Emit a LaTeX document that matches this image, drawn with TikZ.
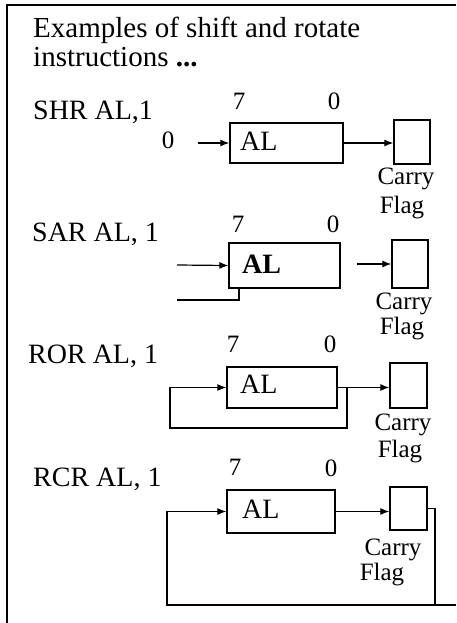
\documentclass[tikz,border=0pt]{standalone}
\usepackage{fontspec}
\setmainfont{Liberation Serif}
\usetikzlibrary{arrows.meta}
\begin{document}
\begin{tikzpicture}[x=1pt,y=-1pt,
  txt/.style={anchor=base west,inner sep=0pt,font=\fontsize{28}{32}\selectfont},
  ttl/.style={anchor=base west,inner sep=0pt,font=\fontsize{29}{33}\selectfont},
  lbl/.style={anchor=base,inner sep=0pt,font=\fontsize{25}{30}\selectfont},
  regbox/.style={draw,line width=1.3pt,inner sep=0pt},
  flow/.style={line width=1.2pt,-{Latex[length=9pt,width=7pt]}},
  wire/.style={line width=1.2pt},
  frameline/.style={line width=2pt}]
\useasboundingbox (0,0) rectangle (456,623);
% frame
\coordinate (ftl) at (7,5);
\coordinate (ftr) at (456,5);
\coordinate (fbl) at (7,623);
\draw[frameline] (ftr) -- (ftl) -- (fbl);
% title
\node[ttl] (t1) at (33,38) {Examples of shift and rotate};
\node[ttl] (t2) at (33,67) {instructions \textbf{...}};

% ---------- SHR ----------
\node[txt] (shrlab) at (33,119) {SHR AL,1};
\node[lbl] (shr7) at (239,110) {7};
\node[lbl] (shr0) at (334,110) {0};
\node[lbl] (shrzero) at (168,148) {0};
\node[regbox,minimum width=113pt,minimum height=40pt] (shrbox) at (286.5,143) {};
\node[txt] (shral) at (240,150) {AL};
\node[regbox,minimum width=36pt,minimum height=44pt] (shrcf) at (412,142) {};
\node[lbl] (shrc) at (406,184) {Carry};
\node[lbl] (shrf) at (402,213) {Flag};
\coordinate (shrin) at (198,143);
\draw[flow] (shrin) -- (shrbox.west);
\draw[flow] (shrbox.east) -- (shrcf.west |- shrbox.east);

% ---------- SAR ----------
\node[txt] (sarlab) at (32,241) {SAR AL, 1};
\node[lbl] (sar7) at (238,232) {7};
\node[lbl] (sar0) at (333,232) {0};
\node[regbox,minimum width=111pt,minimum height=45pt] (sarbox) at (284.5,265.5) {};
\node[txt] (saral) at (242,273) {\textbf{AL}};
\node[regbox,minimum width=36pt,minimum height=48pt] (sarcf) at (410,264) {};
\node[lbl] (sarc) at (404,309) {Carry};
\node[lbl] (sarf) at (402,334) {Flag};
\coordinate (sarin) at (177,265);
\coordinate (sarout) at (357,264);
\coordinate (sarfb1) at (239,300);
\coordinate (sarfb2) at (177,300);
\draw[flow] (sarin) -- (sarbox.west);
\draw[flow] (sarout) -- (sarcf.west |- sarout);
\draw[wire] (sarbox.south -| sarfb1) -- (sarfb1) -- (sarfb2);

% ---------- ROR ----------
\node[txt] (rorlab) at (28,363) {ROR AL, 1};
\node[lbl] (ror7) at (233,352) {7};
\node[lbl] (ror0) at (330,352) {0};
\node[regbox,minimum width=110pt,minimum height=41pt] (rorbox) at (282,387.5) {};
\node[txt] (roral) at (240,393) {AL};
\node[regbox,minimum width=37pt,minimum height=45pt] (rorcf) at (408.5,385.5) {};
\node[lbl] (rorc) at (403,430) {Carry};
\node[lbl] (rorf) at (400,457) {Flag};
\coordinate (rora) at (347,428);
\coordinate (rorb) at (170,428);
\draw[flow] (rorbox.east) -- (rorcf.west |- rorbox.east);
\draw[flow] (rorbox.east -| rora) -- (rora) -- (rorb) -- (rorb |- rorbox.west) -- (rorbox.west);

% ---------- RCR ----------
\node[txt] (rcrlab) at (33,486) {RCR AL, 1};
\node[lbl] (rcr7) at (235,475) {7};
\node[lbl] (rcr0) at (331,476) {0};
\node[regbox,minimum width=108pt,minimum height=43pt] (rcrbox) at (281,511.5) {};
\node[txt] (rcral) at (242,518) {AL};
\node[regbox,minimum width=37pt,minimum height=43pt] (rcrcf) at (408.5,508.5) {};
\node[lbl] (rcrc) at (393,555) {Carry};
\node[lbl] (rcrf) at (382,580) {Flag};
\coordinate (rcra) at (435,605);
\coordinate (rcrb) at (167,605);
\coordinate (bottomend) at (456,605);
\draw[flow] (rcrbox.east) -- (rcrcf.west |- rcrbox.east);
\draw[flow] (rcrcf.east) -- (rcrcf.east -| rcra) -- (rcra) -- (rcrb) -- (rcrb |- rcrbox.west) -- (rcrbox.west);
\draw[line width=1.6pt] (rcrb) -- (bottomend);
\end{tikzpicture}
\end{document}
